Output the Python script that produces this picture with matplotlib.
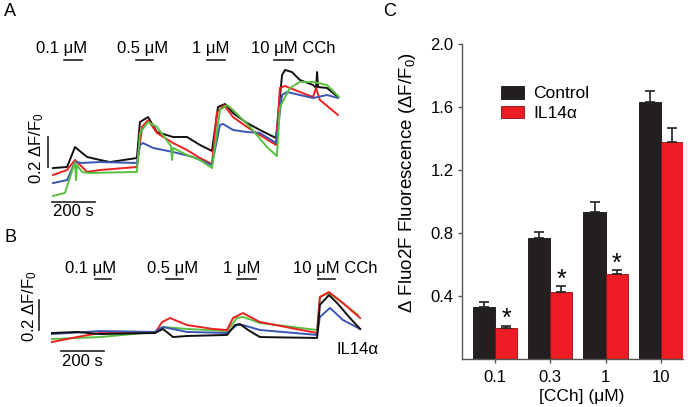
import matplotlib
matplotlib.use("Agg")
import matplotlib.pyplot as plt

plt.rcParams['font.family'] = ['Liberation Sans', 'DejaVu Sans']
plt.rcParams['mathtext.fontset'] = 'custom'
plt.rcParams['mathtext.rm'] = 'Liberation Sans'
plt.rcParams['mathtext.default'] = 'regular'

W, H = 697, 407
S_T = 200 / 43.0    # seconds per pixel in the trace panels
S_V = 0.2 / 30.0    # dF/F0 per pixel in the trace panels

TRACE_COLORS = {"black": "#111111", "red": "#ee2020", "blue": "#3a55b4", "green": "#58c040"}

# ---- panel A traces (time s, dF/F0) ----
a_black_t = [5, 70, 107, 163, 223, 270, 395, 409, 447, 488, 563, 628, 688, 744, 772, 805, 842, 907, 967, 1042,
             1070, 1084, 1116, 1153, 1214, 1228, 1233, 1237, 1279, 1330]
a_black_v = [0.213, 0.22, 0.353, 0.287, 0.267, 0.253, 0.28, 0.52, 0.553, 0.453, 0.42, 0.42, 0.367, 0.327, 0.62,
             0.64, 0.58, 0.513, 0.467, 0.413, 0.833, 0.867, 0.853, 0.80, 0.767, 0.747, 0.853, 0.753, 0.747, 0.687]
a_red_t = [5, 70, 107, 163, 223, 395, 419, 447, 488, 563, 628, 688, 744, 767, 800, 842, 907, 967, 1042,
           1060, 1084, 1153, 1214, 1228, 1246, 1330]
a_red_v = [0.167, 0.20, 0.267, 0.187, 0.20, 0.22, 0.487, 0.533, 0.447, 0.38, 0.333, 0.28, 0.24, 0.58, 0.633,
           0.553, 0.487, 0.433, 0.367, 0.747, 0.76, 0.72, 0.687, 0.747, 0.667, 0.567]
a_blue_t = [5, 70, 107, 140, 223, 395, 409, 423, 470, 563, 656, 744, 781, 795, 842, 907, 967, 1042,
            1070, 1093, 1153, 1214, 1279, 1330]
a_blue_v = [0.113, 0.133, 0.253, 0.247, 0.253, 0.247, 0.367, 0.38, 0.347, 0.32, 0.287, 0.233, 0.50, 0.507,
            0.467, 0.453, 0.447, 0.38, 0.70, 0.72, 0.70, 0.68, 0.70, 0.68]
a_green_t = [5, 60, 107, 112, 116, 140, 167, 395, 409, 447, 488, 553, 558, 563, 628, 688, 744, 781, 814, 842,
             921, 1000, 1046, 1060, 1107, 1153, 1214, 1279, 1335]
a_green_v = [0.027, 0.047, 0.253, 0.133, 0.233, 0.187, 0.18, 0.187, 0.447, 0.52, 0.487, 0.36, 0.267, 0.347,
             0.30, 0.267, 0.213, 0.60, 0.633, 0.60, 0.487, 0.353, 0.293, 0.62, 0.747, 0.787, 0.787, 0.767, 0.687]

# ---- panel B traces ----
b_black_t = [0, 116, 223, 479, 516, 563, 628, 814, 851, 874, 912, 967, 1233, 1246, 1288, 1326, 1386, 1433]
b_black_v = [0.08, 0.087, 0.073, 0.08, 0.107, 0.053, 0.06, 0.067, 0.133, 0.14, 0.10, 0.053, 0.047, 0.267,
             0.333, 0.28, 0.18, 0.107]
b_red_t = [0, 116, 223, 479, 512, 549, 628, 749, 814, 842, 888, 967, 1233, 1246, 1288, 1353, 1433]
b_red_v = [0.02, 0.053, 0.08, 0.08, 0.153, 0.18, 0.133, 0.107, 0.10, 0.18, 0.213, 0.153, 0.08, 0.32, 0.353,
           0.28, 0.18]
b_green_t = [0, 223, 479, 516, 628, 814, 860, 888, 967, 1233, 1246, 1288, 1353, 1423]
b_green_v = [0.04, 0.053, 0.087, 0.12, 0.107, 0.093, 0.18, 0.187, 0.147, 0.10, 0.32, 0.347, 0.28, 0.20]
b_blue_t = [0, 223, 479, 516, 628, 814, 860, 888, 967, 1233, 1246, 1293, 1353, 1433]
b_blue_v = [0.073, 0.093, 0.087, 0.12, 0.087, 0.08, 0.133, 0.133, 0.10, 0.067, 0.187, 0.247, 0.167, 0.107]

# drug labels: (text, label start s, bar start s, bar end s)
a_doses = [("0.1 μM", -74, 56, 140), ("0.5 μM", 302, 391, 470),
           ("1 μM", 651, 721, 805), ("10 μM CCh", 926, 1033, 1121)]
b_doses = [("0.1 μM", 60, 200, 274), ("0.5 μM", 442, 530, 609),
           ("1 μM", 795, 860, 949), ("10 μM CCh", 1121, 1237, 1316)]

# ---- panel C bars ----
conc_labels = ["0.1", "0.3", "1", "10"]
control_mean = [0.332, 0.766, 0.935, 1.63]
control_err = [0.032, 0.038, 0.06, 0.07]
il14_mean = [0.195, 0.427, 0.538, 1.38]
il14_err = [0.017, 0.036, 0.027, 0.085]
signif = [True, True, True, False]

fig = plt.figure(figsize=(W / 100, H / 100), dpi=100)


def trace_axes(x0, x1, y0, y1, py_zero):
    ax = fig.add_axes([x0 / W, 1 - y1 / H, (x1 - x0) / W, (y1 - y0) / H])
    ax.set_xlim((x0 - 52) * S_T, (x1 - 52) * S_T)
    ax.set_ylim((py_zero - y1) * S_V, (py_zero - y0) * S_V)
    ax.axis('off')
    return ax


def draw_doses(ax, doses, y_text, y_bar):
    for label, t_text, t0, t1 in doses:
        ax.text(t_text, y_text, label, fontsize=12, ha='left', va='center')
        ax.plot([t0, t1], [y_bar, y_bar], color='#222222', lw=1.2)


# panel A
axA = trace_axes(0, 390, 20, 230, 200)
for t, v, c in [(a_black_t, a_black_v, "black"), (a_red_t, a_red_v, "red"),
                (a_blue_t, a_blue_v, "blue"), (a_green_t, a_green_v, "green")]:
    axA.plot(t, v, color=TRACE_COLORS[c], lw=1.4)
draw_doses(axA, a_doses, 1.013, 0.933)
axA.plot([-19, -19], [0.22, 0.42], color='#222222', lw=1.2)
axA.plot([0, 200], [-0.013, -0.013], color='#222222', lw=1.2)
axA.text(100, -0.08, "200 s", fontsize=12, ha='center', va='center')
axA.text(-70, 0.347, "0.2 ΔF/F$_0$", fontsize=12, rotation=90, ha='center', va='center')

# panel B
axB = trace_axes(0, 390, 245, 375, 345)
for t, v, c in [(b_green_t, b_green_v, "green"), (b_red_t, b_red_v, "red"),
                (b_blue_t, b_blue_v, "blue"), (b_black_t, b_black_v, "black")]:
    axB.plot(t, v, color=TRACE_COLORS[c], lw=1.4)
draw_doses(axB, b_doses, 0.513, 0.44)
axB.plot([-60, -60], [0.1, 0.3], color='#222222', lw=1.2)
axB.plot([42, 242], [-0.04, -0.04], color='#222222', lw=1.2)
axB.text(142, -0.113, "200 s", fontsize=12, ha='center', va='center')
axB.text(-102, 0.26, "0.2 ΔF/F$_0$", fontsize=12, rotation=90, ha='center', va='center')
axB.text(1419, -0.033, "IL14α", fontsize=12, ha='center', va='center')

# panel C
axC = fig.add_axes([462 / W, 1 - 359 / H, (683 - 462) / W, (359 - 44) / H])
x = list(range(len(conc_labels)))
bw = 0.4
axC.bar([i - bw / 2 for i in x], control_mean, bw, color='#231f20', edgecolor='#111111', lw=0.6,
        yerr=[[0] * 4, control_err], capsize=3.5, error_kw=dict(lw=1.2, capthick=1.2, ecolor='#222222'),
        label='Control')
axC.bar([i + bw / 2 for i in x], il14_mean, bw, color='#ee1c25', edgecolor='#8a1010', lw=0.6,
        yerr=[[0] * 4, il14_err], capsize=3.5, error_kw=dict(lw=1.2, capthick=1.2, ecolor='#222222'),
        label='IL14α')
for i, s in enumerate(signif):
    if s:
        axC.text(i + bw / 2, il14_mean[i] + il14_err[i] - 0.035, "*", fontsize=18, ha='center', va='bottom')

axC.set_xlim(-0.597, 3.40)
axC.set_ylim(0, 2.0)
axC.set_yticks([0.4, 0.8, 1.2, 1.6, 2.0])
axC.set_yticklabels(["0.4", "0.8", "1.2", "1.6", "2.0"])
axC.set_xticks(x)
axC.set_xticklabels(conc_labels)
for side in ('top', 'right'):
    axC.spines[side].set_visible(False)
for side in ('left', 'bottom'):
    axC.spines[side].set_color('#555555')
    axC.spines[side].set_linewidth(1.0)
axC.tick_params(labelsize=12, length=3, width=1.0, color='#555555', pad=3)
axC.tick_params(axis='x', pad=5)
axC.set_ylabel("Δ Fluo2F Fluorescence (ΔF/F$_0$)", fontsize=13.5)
axC.yaxis.set_label_coords(-0.199, 0.559)
axC.set_xlabel("[CCh] (μM)", fontsize=12.5, va='top')
axC.xaxis.set_label_coords(0.5416, -0.095)
axC.legend(loc='upper left', bbox_to_anchor=(0.175, 0.866), frameon=False, fontsize=12.5,
           handlelength=1.32, handleheight=0.72, handletextpad=0.55, labelspacing=0.25, borderpad=0,
           borderaxespad=0)

# panel letters
fig.text(10 / W, 1 - 12 / H, "A", fontsize=13, ha='center', va='center')
fig.text(10 / W, 1 - 237 / H, "B", fontsize=13, ha='center', va='center')
fig.text(390 / W, 1 - 12 / H, "C", fontsize=13, ha='center', va='center')

fig.savefig("out.png", dpi=100)
